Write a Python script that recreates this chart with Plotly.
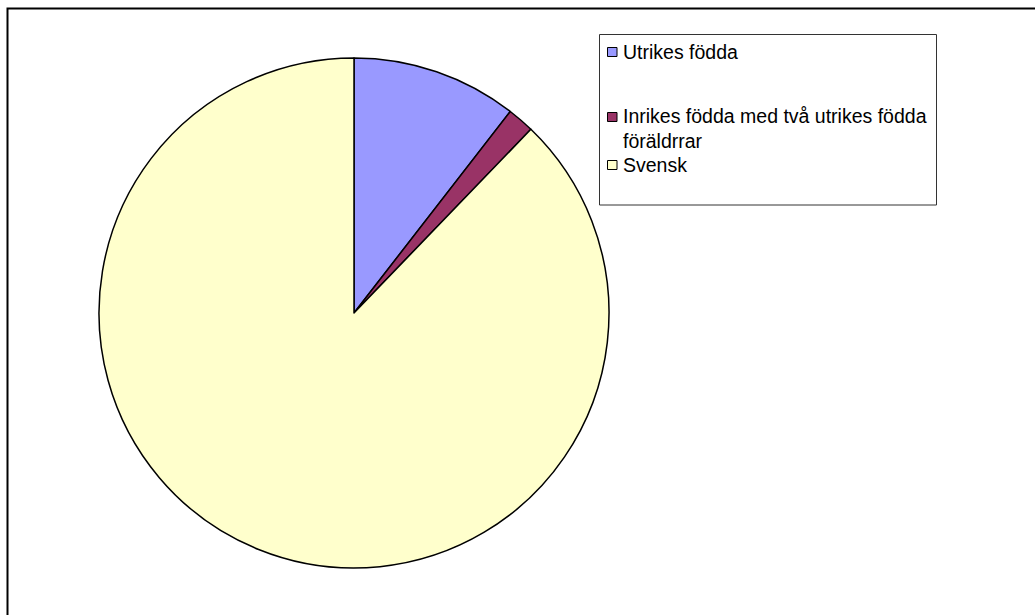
import plotly.graph_objects as go

# Population shares by background
labels = ["Utrikes födda", "Inrikes födda med två utrikes födda<br>föräldrrar", "Svensk"]
values = [10.5, 1.7, 87.8]
colors = ["#9999FF", "#993366", "#FFFFCC"]

W, H = 1035, 615


def px(x):
    return x / W


def py(y):
    return 1 - y / H


# Pie placement (pixels): centre and radius
cx, cy, r = 354, 313, 255

fig = go.Figure(
    go.Pie(
        labels=labels,
        values=values,
        sort=False,
        direction="clockwise",
        rotation=0,
        marker=dict(colors=colors, line=dict(color="black", width=1.5)),
        textinfo="none",
        hoverinfo="label+percent",
        showlegend=False,
        domain=dict(x=[px(cx - r), px(cx + r)], y=[py(cy + r), py(cy - r)]),
    )
)

shapes = []
annotations = []

# Outer chart frame (runs off the right and bottom edges)
shapes.append(dict(type="rect", xref="paper", yref="paper",
                   x0=px(7.5), x1=1.05, y0=-0.05, y1=py(8.5),
                   line=dict(color="black", width=2), fillcolor="rgba(0,0,0,0)", layer="above"))

# Legend box
shapes.append(dict(type="rect", xref="paper", yref="paper",
                   x0=px(599.5), x1=px(936.5), y0=py(205), y1=py(34.5),
                   line=dict(color="#333333", width=1), fillcolor="white"))

# Legend entries: swatch + label
entry_y = [52, 128, 165]
for lab, col, yy in zip(labels, colors, entry_y):
    sw_y = yy if "<br>" not in lab else yy - 11
    shapes.append(dict(type="rect", xref="paper", yref="paper",
                       x0=px(607.5), x1=px(617), y0=py(sw_y + 4.5), y1=py(sw_y - 4.5),
                       line=dict(color="black", width=1), fillcolor=col))
    annotations.append(dict(xref="paper", yref="paper", x=px(621), y=py(yy),
                            xanchor="left", yanchor="middle", align="left",
                            text=lab, showarrow=False,
                            font=dict(family="Liberation Sans, Arial", size=19.5, color="black")))

fig.update_layout(
    width=W, height=H,
    margin=dict(l=0, r=0, t=0, b=0),
    paper_bgcolor="white",
    plot_bgcolor="white",
    shapes=shapes,
    annotations=annotations,
)

fig.write_html("out.html")
